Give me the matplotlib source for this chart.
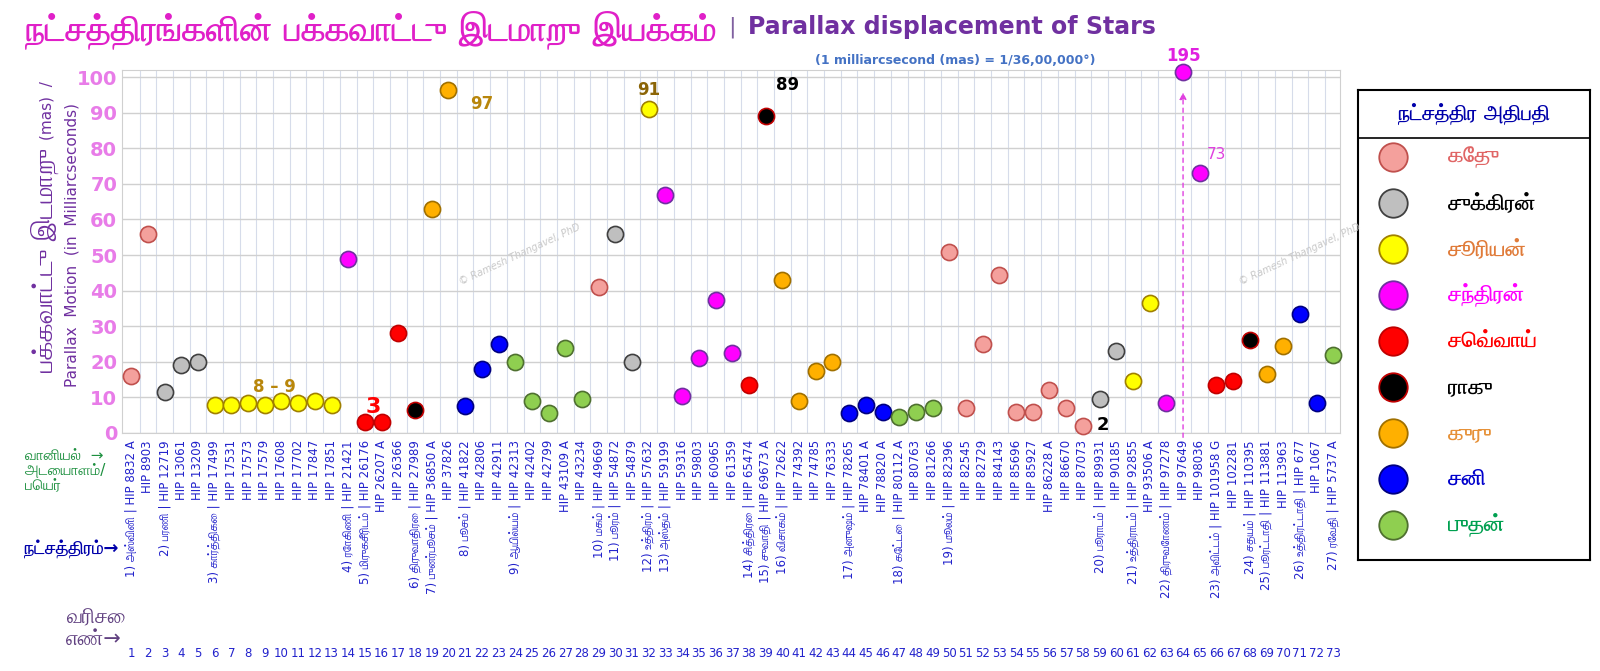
import matplotlib
matplotlib.use("Agg")
import matplotlib.pyplot as plt
import matplotlib.font_manager as fm
import matplotlib.patheffects as pe
from matplotlib.ft2font import FT2Font

# installed fonts with Tamil glyphs: family -> has a bold face with Tamil?
tamil = {}
for e in fm.fontManager.ttflist:
    try:
        if 0x0BA4 not in FT2Font(e.fname).get_charmap():
            continue
    except Exception:
        continue
    w = e.weight if isinstance(e.weight, int) else fm.weight_dict.get(e.weight, 400)
    tamil[e.name] = tamil.get(e.name, False) or w >= 600
tamil_order = sorted(tamil, key=lambda n: (not tamil[n], "Mono" in n, "Sans" not in n, n))
tamil_family = tamil_order[0] if tamil_order else None
tamil_bold = bool(tamil_family and tamil[tamil_family])
plt.rcParams["font.family"] = ["DejaVu Sans"] + ([tamil_family] if tamil_family else [])


def bold(color, lw=0.9):
    # real bold if the Tamil font has one, otherwise a thin outline
    if tamil_bold:
        return dict(color=color, fontweight="bold")
    return dict(color=color, path_effects=[pe.withStroke(linewidth=lw, foreground=color)])


# --- data ---------------------------------------------------------------
nakshatras = ["அஸ்வினி", "பரணி", "கார்த்திகை", "ரோகிணி", "மிருகசீரிடம்", "திருவாதிரை",
              "புனர்பூசம்", "பூசம்", "ஆயில்யம்", "மகம்", "பூரம்", "உத்திரம்", "அஸ்தம்",
              "சித்திரை", "சுவாதி", "விசாகம்", "அனுஷம்", "கேட்டை", "மூலம்", "பூராடம்",
              "உத்திராடம்", "திருவோணம்", "அவிட்டம்", "சதயம்", "பூரட்டாதி", "உத்திரட்டாதி", "ரேவதி"]
stars_per_nakshatra = [2, 3, 8, 1, 3, 1, 2, 3, 5, 1, 2, 1, 5, 1, 1, 4, 3, 3, 9, 2, 2, 3, 2, 1, 2, 2, 1]

rulers = ["கேது", "சுக்கிரன்", "சூரியன்", "சந்திரன்", "செவ்வாய்", "ராகு", "குரு", "சனி", "புதன்"]
ruler_fill = ["#f4a09c", "#bfbfbf", "#ffff00", "#ff00ff", "#ff0000", "#000000", "#ffb000", "#0000ff", "#8fcf50"]
ruler_edge = ["#c0504d", "#404040", "#a08000", "#7030a0", "#c00000", "#c00000", "#a07000", "#000080", "#4f7030"]
ruler_text = ["#e06666", "#000000", "#e07b39", "#ff00ff", "#ff0000", "#000000", "#e69138", "#0000cc", "#00a050"]

hip = ["HIP 8832 A", "HIP 8903", "HIP 12719", "HIP 13061", "HIP 13209", "HIP 17499", "HIP 17531",
       "HIP 17573", "HIP 17579", "HIP 17608", "HIP 17702", "HIP 17847", "HIP 17851", "HIP 21421",
       "HIP 26176", "HIP 26207 A", "HIP 26366", "HIP 27989", "HIP 36850 A", "HIP 37826", "HIP 41822",
       "HIP 42806", "HIP 42911", "HIP 42313", "HIP 42402", "HIP 42799", "HIP 43109 A", "HIP 43234",
       "HIP 49669", "HIP 54872", "HIP 54879", "HIP 57632", "HIP 59199", "HIP 59316", "HIP 59803",
       "HIP 60965", "HIP 61359", "HIP 65474", "HIP 69673 A", "HIP 72622", "HIP 74392", "HIP 74785",
       "HIP 76333", "HIP 78265", "HIP 78401 A", "HIP 78820 A", "HIP 80112 A", "HIP 80763", "HIP 81266",
       "HIP 82396", "HIP 82545", "HIP 82729", "HIP 84143", "HIP 85696", "HIP 85927", "HIP 86228 A",
       "HIP 86670", "HIP 87073", "HIP 89931", "HIP 90185", "HIP 92855", "HIP 93506 A", "HIP 97278",
       "HIP 97649", "HIP 98036", "HIP 101958 G", "HIP 102281", "HIP 110395", "HIP 113881",
       "HIP 113963", "HIP 677", "HIP 1067", "HIP 5737 A"]

# parallax in mas (HIP 97649 = 195 mas, drawn clipped at the top)
parallax = [16, 56, 11.5, 19, 20, 8, 8, 8.5, 8, 9, 8.5, 9, 8, 49,
            3, 3, 28, 6.5, 63, 96.5, 7.5, 18, 25, 20, 9, 5.5, 24, 9.5,
            41, 56, 20, 91, 67, 10.5, 21, 37.5, 22.5, 13.5, 89, 43, 9, 17.5,
            20, 5.5, 8, 6, 4.5, 6, 7, 51, 7, 25, 44.5, 6, 6, 12,
            7, 2, 9.5, 23, 14.5, 36.5, 8.5, 195, 73, 13.5, 14.5, 26, 16.5,
            24.5, 33.5, 8.5, 22]
y_cap = 101.5

# star -> nakshatra index
nak_of_star = []
for i, c in enumerate(stars_per_nakshatra):
    nak_of_star += [i] * c
x = list(range(1, len(hip) + 1))

# --- figure -------------------------------------------------------------
W, H = 1600, 671
fig = plt.figure(figsize=(16, 6.71), dpi=100)
renderer = fig.canvas.get_renderer()
ax = fig.add_axes([122 / W, 1 - 433 / H, (1340 - 122) / W, (433 - 70) / H])
ax.set_xlim(0.45, 73.4)
ax.set_ylim(0, 102)

ax.set_yticks(range(0, 101, 10))
ax.set_xticks([])
ax.set_xticks([i + 0.5 for i in x[:-1]], minor=True)
ax.tick_params(axis="x", which="both", length=0, labelbottom=False)
ax.tick_params(axis="y", length=0, labelsize=14, labelcolor="#e87ce8")
for lab in ax.get_yticklabels():
    lab.set_fontweight("bold")
ax.grid(axis="y", color="#d0d0d0", lw=1)
ax.grid(axis="x", which="minor", color="#d6dcea", lw=0.8)
ax.set_axisbelow(True)
for s in ax.spines.values():
    s.set_color("#d0d0d0")

for xi, v, n in zip(x, parallax, nak_of_star):
    r = n % 9
    ax.scatter(xi, min(v, y_cap), s=135, color=ruler_fill[r], edgecolor=ruler_edge[r],
               linewidth=1.2, zorder=3, clip_on=False)

# arrow for the off-scale point
ax.annotate("", xy=(64, 96.5), xytext=(64, -2),
            arrowprops=dict(arrowstyle="-|>", color="#e040e0", ls=(0, (3, 3)), lw=1),
            annotation_clip=False)

# value annotations
ax.text(9.6, 11.5, "8 – 9", color="#b8860b", fontsize=12, fontweight="bold", ha="center")
ax.text(15.5, 5.5, "3", color="#ff0000", fontsize=16, fontweight="bold", ha="center")
ax.text(22, 91, "97", color="#b8860b", fontsize=12, fontweight="bold", ha="center")
ax.text(32, 95, "91", color="#8b6508", fontsize=12, fontweight="bold", ha="center")
ax.text(40.3, 96.5, "89", color="#000000", fontsize=12, fontweight="bold", ha="center")
ax.text(64, 104.5, "195", color="#e020e0", fontsize=12, fontweight="bold", ha="center")
ax.text(66, 77, "73", color="#e040e0", fontsize=11, ha="center")
ax.text(59.2, 0.8, "2", color="#000000", fontsize=13, fontweight="bold", ha="center")

# watermark
for wx, wy in [(520 / W, 1 - 255 / H), (1300 / W, 1 - 255 / H)]:
    fig.text(wx, wy, "© Ramesh Thangavel, PhD", rotation=25, color="#c8c8c8",
             fontsize=7, style="italic", ha="center", va="center")

# category labels below the axis
first_star = set()
start = 0
for c in stars_per_nakshatra:
    first_star.add(start)
    start += c
for i, (xi, h) in enumerate(zip(x, hip)):
    n = nak_of_star[i]
    lab = f"{n + 1}) {nakshatras[n]} | {h}" if i in first_star else h
    ax.text(xi, -2, lab, rotation=90, ha="center", va="top", color="#2222cc",
            fontsize=8.5, clip_on=False)
    ax.text(xi, -62, str(xi), ha="center", va="center", color="#2222cc", fontsize=8.5,
            clip_on=False)

# row captions at the left
fig.text(25 / W, 1 - 470 / H, "வானியல்  →\nஅடையாளம்/\nபெயர்", color="#1e9040",
         fontsize=11, va="center", linespacing=1.0)
fig.text(118 / W, 1 - 549 / H, "நட்சத்திரம்→", fontsize=13, ha="right", va="center",
         **bold("#0000aa", 0.7))
fig.text(66 / W, 1 - 628 / H, "வரிசை\nஎண்→", color="#604080", fontsize=15,
         va="center", linespacing=1.1)

# y-axis titles: Tamil part, then the smaller "(mas) /" right above it
yl = fig.text(45 / W, 1 - 372 / H, "பக்கவாட்டு இடமாறு", color="#7030a0", fontsize=19,
              rotation=90, ha="center", va="bottom")
top = yl.get_window_extent(renderer).y1
fig.text(47 / W, (top + 8) / H, "(mas)  /", color="#7030a0", fontsize=11,
         rotation=90, ha="center", va="bottom")
fig.text(72 / W, 1 - 245 / H, "Parallax  Motion  (in  Milliarcseconds)", color="#7030a0",
         fontsize=11, rotation=90, ha="center", va="center")

# title: Tamil part, then separator and English part right after it
t1 = fig.text(25 / W, 1 - 30 / H, "நட்சத்திரங்களின் பக்கவாட்டு இடமாறு இயக்கம்",
              fontsize=25, va="center", **bold("#e020c8", 1.3))
x_end = t1.get_window_extent(renderer).x1
t2 = fig.text((x_end + 12) / W, 1 - 27 / H, "|", color="#8060a0", fontsize=16, va="center")
x_end = t2.get_window_extent(renderer).x1
fig.text((x_end + 12) / W, 1 - 27 / H, "Parallax displacement of Stars", color="#7030a0",
         fontsize=17, fontweight="bold", va="center")
fig.text(955 / W, 1 - 60 / H, "(1 milliarcsecond (mas) = 1/36,00,000°)", color="#4472c4",
         fontsize=9, fontweight="bold", ha="center", va="center")

# legend box
lax = fig.add_axes([1358 / W, 1 - 560 / H, (1590 - 1358) / W, (560 - 90) / H])
lax.set_xlim(0, 1)
lax.set_ylim(560, 90)
lax.set_xticks([])
lax.set_yticks([])
for s in lax.spines.values():
    s.set_color("black")
    s.set_linewidth(1.5)
lax.axhline(138, color="black", lw=1.2)
lax.text(0.5, 114, "நட்சத்திர அதிபதி", fontsize=15, ha="center", va="center",
         **bold("#0000aa"))
for k, name in enumerate(rulers):
    yy = 157 + k * 46
    lax.scatter(0.15, yy, s=420, color=ruler_fill[k], edgecolor=ruler_edge[k], linewidth=1.3)
    lax.text(0.39, yy, name, fontsize=16, va="center", **bold(ruler_text[k]))

fig.savefig("out.png", dpi=100)
